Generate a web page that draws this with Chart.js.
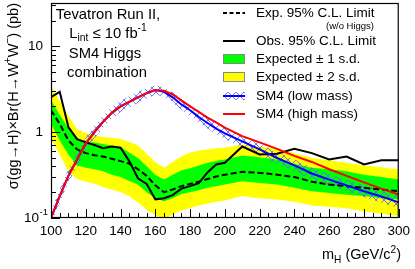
<!DOCTYPE html>
<html><head><meta charset="utf-8">
<script src="https://cdn.jsdelivr.net/npm/chart.js@4/dist/chart.umd.min.js"></script>
<style>html,body{margin:0;padding:0;background:#fff}canvas{display:block}</style>
</head><body>
<canvas id="c" width="415" height="269"></canvas>
<script>
// ---- data ----
const masses = [100,105,110,115,120,125,130,135,140,145,150,155,160,165,170,175,180,185,190,195,200,210,220,230,240,250,260,270,280,290,300];
const obsLimit = [2.56,2.95,1.15,0.83,0.76,0.71,0.65,0.68,0.66,0.46,0.29,0.25,0.165,0.17,0.185,0.22,0.235,0.255,0.34,0.42,0.44,0.68,0.55,0.56,0.64,0.57,0.48,0.52,0.42,0.47,0.47];
const expLimit = [1.8,1.25,0.8,0.63,0.57,0.54,0.52,0.49,0.46,0.43,0.37,0.31,0.24,0.2,0.215,0.235,0.25,0.265,0.285,0.305,0.32,0.345,0.335,0.32,0.3,0.265,0.245,0.235,0.225,0.215,0.205];
const exp2Up = [3.5,2.3,1.54,1.08,0.98,0.92,0.88,0.86,0.83,0.77,0.7,0.56,0.45,0.385,0.45,0.52,0.58,0.61,0.63,0.65,0.66,0.72,0.68,0.64,0.57,0.5,0.47,0.44,0.41,0.39,0.367];
const exp1Up = [2.35,1.6,1.12,0.85,0.78,0.76,0.73,0.7,0.67,0.58,0.5,0.4,0.32,0.28,0.32,0.36,0.38,0.41,0.44,0.46,0.48,0.535,0.51,0.48,0.43,0.385,0.37,0.35,0.32,0.3,0.28];
const exp1Dn = [1.25,0.8,0.55,0.41,0.385,0.37,0.35,0.32,0.3,0.27,0.245,0.2,0.17,0.157,0.17,0.19,0.2,0.21,0.225,0.235,0.245,0.268,0.255,0.245,0.225,0.205,0.195,0.187,0.18,0.17,0.164];
const exp2Dn = [0.85,0.55,0.35,0.285,0.265,0.25,0.23,0.215,0.2,0.18,0.152,0.125,0.108,0.098,0.11,0.122,0.13,0.14,0.148,0.155,0.16,0.18,0.17,0.164,0.155,0.14,0.135,0.13,0.12,0.112,0.105];
const sm4High = [0.1,0.18,0.31,0.48,0.74,1.0,1.33,1.68,2.0,2.25,2.55,2.85,3.1,3.05,2.75,2.35,2.0,1.72,1.48,1.3,1.13,0.9,0.76,0.64,0.53,0.45,0.37,0.31,0.26,0.22,0.187];
const sm4Low = [0.1,0.18,0.31,0.48,0.74,1.0,1.33,1.68,2.0,2.25,2.55,2.85,3.1,2.95,2.55,2.1,1.8,1.5,1.28,1.1,0.97,0.78,0.63,0.5,0.41,0.33,0.28,0.24,0.205,0.178,0.152];
const sm4LowUp = [0.12,0.215,0.37,0.57,0.87,1.18,1.56,1.97,2.33,2.62,2.95,3.28,3.5,3.35,2.92,2.42,2.07,1.73,1.48,1.27,1.12,0.9,0.73,0.58,0.48,0.385,0.325,0.28,0.24,0.208,0.18];
const sm4LowDn = [0.083,0.15,0.26,0.4,0.62,0.85,1.13,1.43,1.72,1.94,2.2,2.47,2.72,2.6,2.22,1.82,1.56,1.3,1.1,0.95,0.83,0.67,0.54,0.43,0.35,0.28,0.24,0.205,0.175,0.152,0.13];
const xTickLabels = ['100','120','140','160','180','200','220','240','260','280','300'];
const yTickValues = [0.1, 1, 10];
const yTickLabels = [['10','-1'], ['1',''], ['10','']];
const legendLabels = ['Exp. 95% C.L. Limit','(w/o Higgs)','Obs. 95% C.L. Limit','Expected \u00b1 1 s.d.','Expected \u00b1 2 s.d.','SM4 (low mass)','SM4 (high mass)'];
const infoLines = ['Tevatron Run II,','SM4 Higgs','combination'];

const FONT = '"Liberation Sans", Arial, Helvetica, sans-serif';
const pts = arr => masses.map((m,i)=>({x:m,y:arr[i]}));

const canvas = document.getElementById('c');
const ctx0 = canvas.getContext('2d');
function makeHatch(){
  const c=document.createElement('canvas'); c.width=8; c.height=8;
  const g=c.getContext('2d');
  g.strokeStyle='rgba(100,100,255,0.9)'; g.lineWidth=1;
  g.beginPath(); g.moveTo(-1,-1); g.lineTo(9,9); g.moveTo(9,-1); g.lineTo(-1,9); g.stroke();
  return ctx0.createPattern(c,'repeat');
}
const hatch = makeHatch();

function font(sz){ return sz+'px '+FONT; }
// rich text: segments [{t, k:'n'|'sup'|'sub'}]
function richWidth(ctx, segs, sz){
  let w=0; for(const s of segs){ ctx.font=font(s.k==='n'?sz:sz*0.7); w+=ctx.measureText(s.t).width; } return w;
}
function drawRich(ctx, segs, x, y, sz){
  let cx=x;
  for(const s of segs){
    const fs = s.k==='n'?sz:sz*0.7;
    ctx.font=font(fs);
    const dy = s.k==='sup' ? -sz*0.42 : (s.k==='sub' ? sz*0.28 : 0);
    ctx.fillText(s.t, cx, y+dy);
    cx += ctx.measureText(s.t).width;
  }
}

const decor = {
  id:'decor',
  afterDraw(chart){
    const ctx=chart.ctx, a=chart.chartArea, xs=chart.scales.x, ys=chart.scales.y;
    ctx.save();
    ctx.fillStyle='#000'; ctx.strokeStyle='#000';
    // ticks
    ctx.lineWidth=1;
    ctx.beginPath();
    for(let m=100;m<=300;m+=5){
      const px=Math.round(xs.getPixelForValue(m))+0.5;
      const len = (m%20===0)?9:5;
      ctx.moveTo(px,a.bottom); ctx.lineTo(px,a.bottom-len);
    }
    for(const dec of [0.1,1,10]){
      for(let k=1;k<=9;k++){
        const v=dec*k; if(v>ys.max) break;
        const py=Math.round(ys.getPixelForValue(v))+0.5;
        const len=(k===1)?9:5;
        ctx.moveTo(a.left,py); ctx.lineTo(a.left+len,py);
      }
    }
    ctx.stroke();
    // frame
    ctx.lineWidth=1.2;
    ctx.strokeRect(a.left+0.5,a.top+0.5,a.right-a.left-1,a.bottom-a.top-1);
    // y tick labels
    ctx.textBaseline='middle';
    yTickValues.forEach((v,i)=>{
      const py=ys.getPixelForValue(v);
      const [base,sup]=yTickLabels[i];
      ctx.font=font(13.5);
      if(sup){
        ctx.textAlign='right'; ctx.fillText(base,39,py);
        ctx.textAlign='left'; ctx.font=font(9.5); ctx.fillText(sup,39.5,py-6);
      } else {
        ctx.textAlign='right'; ctx.fillText(base,43,py);
      }
    });
    // y axis title (rotated)
    ctx.save();
    ctx.translate(14,3); ctx.rotate(-Math.PI/2);
    ctx.textAlign='left'; ctx.textBaseline='middle';
    const yt=[{t:'\u03c3(gg\u2192H)\u00d7Br(H\u2192W',k:'n'},{t:'+',k:'sup'},{t:'W',k:'n'},{t:'\u2212',k:'sup'},{t:') (pb)',k:'n'}];
    const ytw=richWidth(ctx,yt,14.5);
    drawRich(ctx,yt,-ytw,0,14.5);
    ctx.restore();
    // x axis title
    ctx.textAlign='left'; ctx.textBaseline='alphabetic';
    const xt=[{t:'m',k:'n'},{t:'H',k:'sub'},{t:' (GeV/c',k:'n'},{t:'2',k:'sup'},{t:')',k:'n'}];
    const xtw=richWidth(ctx,xt,14.5);
    drawRich(ctx,xt,401-xtw,259,14.5);
    // info text block
    ctx.textBaseline='middle';
    const cxT=108;
    const l1=[{t:infoLines[0],k:'n'}];
    drawRich(ctx,l1,cxT-richWidth(ctx,l1,14.8)/2,15,14.8);
    const l2=[{t:'L',k:'n'},{t:'int',k:'sub'},{t:' \u2264 10 fb',k:'n'},{t:'-1',k:'sup'}];
    drawRich(ctx,l2,cxT-richWidth(ctx,l2,14.8)/2,34,14.8);
    const l3=[{t:infoLines[1],k:'n'}];
    drawRich(ctx,l3,cxT-3-richWidth(ctx,l3,14.8)/2,54,14.8);
    const l4=[{t:infoLines[2],k:'n'}];
    drawRich(ctx,l4,cxT-1-richWidth(ctx,l4,14.8)/2,73,14.8);
    // legend
    const sx0=223, sx1=245, tx=256;
    const rows=[13,41,59,77,96,114];
    ctx.textAlign='left'; ctx.textBaseline='middle'; ctx.font=font(13.5);
    // exp dashed
    ctx.lineWidth=2; ctx.setLineDash([4,2.5]); ctx.beginPath(); ctx.moveTo(sx0,rows[0]); ctx.lineTo(sx1,rows[0]); ctx.stroke(); ctx.setLineDash([]);
    ctx.fillText(legendLabels[0],tx,rows[0]);
    ctx.font=font(9.5); ctx.textAlign='right'; ctx.fillText(legendLabels[1],374,26); ctx.textAlign='left';
    ctx.font=font(13.5);
    // obs
    ctx.lineWidth=2; ctx.beginPath(); ctx.moveTo(sx0,rows[1]); ctx.lineTo(sx1,rows[1]); ctx.stroke();
    ctx.fillText(legendLabels[2],tx,rows[1]);
    // green
    ctx.fillStyle='#00ff00'; ctx.fillRect(sx0,rows[2]-5,22,10);
    ctx.strokeStyle='#888'; ctx.lineWidth=1; ctx.strokeRect(sx0+0.5,rows[2]-4.5,21,9);
    ctx.fillStyle='#000'; ctx.fillText(legendLabels[3],tx,rows[2]);
    // yellow
    ctx.fillStyle='#ffff00'; ctx.fillRect(sx0,rows[3]-5,22,10);
    ctx.strokeStyle='#888'; ctx.strokeRect(sx0+0.5,rows[3]-4.5,21,9);
    ctx.fillStyle='#000'; ctx.fillText(legendLabels[4],tx,rows[3]);
    // sm4 low
    ctx.fillStyle=hatch; ctx.fillRect(sx0,rows[4]-4,22,8);
    ctx.strokeStyle='#0000ff'; ctx.lineWidth=2; ctx.beginPath(); ctx.moveTo(sx0,rows[4]); ctx.lineTo(sx1,rows[4]); ctx.stroke();
    ctx.fillStyle='#000'; ctx.fillText(legendLabels[5],tx,rows[4]);
    // sm4 high
    ctx.strokeStyle='#ff0000'; ctx.beginPath(); ctx.moveTo(sx0,rows[5]); ctx.lineTo(sx1,rows[5]); ctx.stroke();
    ctx.fillText(legendLabels[6],tx,rows[5]);
    ctx.restore();
  }
};

const line = (label, arr, color, width, order, extra={}) => Object.assign({
  label, data: pts(arr), borderColor: color, borderWidth: width, pointRadius: 0,
  tension: 0, fill: false, order
}, extra);

new Chart(canvas, {
  type: 'line',
  data: { datasets: [
    line('SM4 (high mass)', sm4High, '#ff0000', 2, 1),
    line('SM4 (low mass)', sm4Low, '#0000ff', 2, 2),
    line('Obs. 95% C.L. Limit', obsLimit, '#000000', 2, 3),
    line('Exp. 95% C.L. Limit', expLimit, '#000000', 2, 4, {borderDash:[6,3]}),
    line('SM4 low up', sm4LowUp, 'rgba(0,0,0,0)', 0, 5, {fill: 5, backgroundColor: hatch}),
    line('SM4 low dn', sm4LowDn, 'rgba(0,0,0,0)', 0, 6),
    line('+1 s.d.', exp1Up, 'rgba(0,0,0,0)', 0, 7, {fill: 7, backgroundColor: '#00ff00'}),
    line('-1 s.d.', exp1Dn, 'rgba(0,0,0,0)', 0, 8),
    line('+2 s.d.', exp2Up, 'rgba(0,0,0,0)', 0, 9, {fill: 9, backgroundColor: '#ffff00'}),
    line('-2 s.d.', exp2Dn, 'rgba(0,0,0,0)', 0, 10)
  ]},
  options: {
    responsive: false, animation: false, devicePixelRatio: 1,
    layout: { padding: { top: 3, right: 13, left: 0, bottom: 0 } },
    plugins: { legend: { display: false }, tooltip: { enabled: false } },
    scales: {
      x: { type: 'linear', min: 100, max: 300,
        grid: { display: false, drawTicks: false }, border: { display: false },
        ticks: { stepSize: 20, autoSkip: false, maxRotation: 0, padding: 5, color: '#000',
          font: { family: FONT, size: 13.5 },
          callback: (v) => { const i = xTickLabels.indexOf(String(v)); return i >= 0 ? xTickLabels[i] : ''; } },
        afterFit: s => { s.height = 51; } },
      y: { type: 'logarithmic', min: 0.1, max: 32,
        grid: { display: false, drawTicks: false }, border: { display: false },
        ticks: { display: false },
        afterFit: s => { s.width = 51; } }
    }
  },
  plugins: [decor]
});
</script>
</body></html>
